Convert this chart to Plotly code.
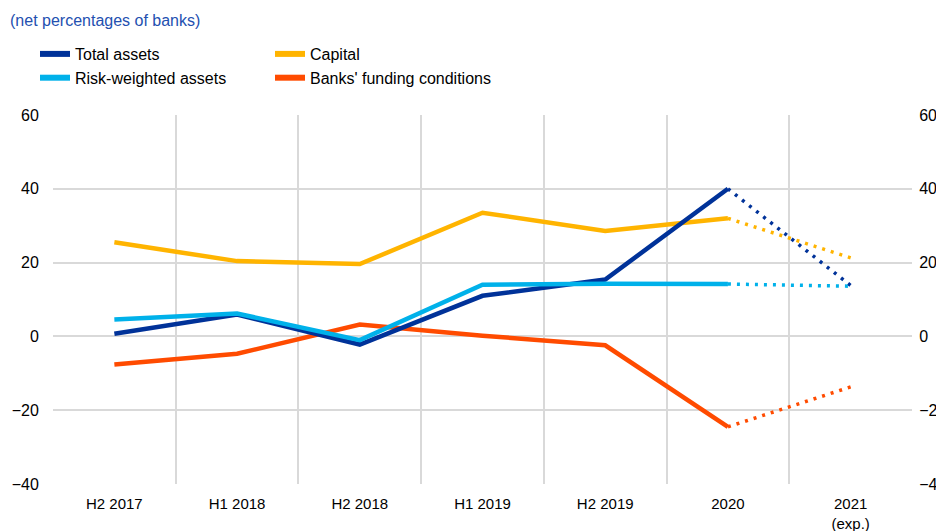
import plotly.graph_objects as go

categories = ["H2 2017", "H1 2018", "H2 2018", "H1 2019", "H2 2019", "2020", "2021<br>(exp.)"]
total_assets = [0.7, 5.9, -2.2, 11.0, 15.4, 40.0, 13.8]
risk_weighted = [4.6, 6.2, -1.0, 14.0, 14.3, 14.2, 13.6]
capital = [25.5, 20.4, 19.6, 33.5, 28.6, 32.0, 21.3]
funding = [-7.6, -4.7, 3.2, 0.2, -2.4, -24.5, -13.7]

series = [
    ("Total assets", total_assets, "#003299", "legend"),
    ("Risk-weighted assets", risk_weighted, "#00b1ea", "legend"),
    ("Capital", capital, "#ffb400", "legend2"),
    ("Banks' funding conditions", funding, "#ff4b00", "legend2"),
]

xpos = list(range(len(categories)))
FONT = "Liberation Sans, Arial, sans-serif"
FS = 16

OFF = 8  # page body margin
W, H = 944 - OFF, 531 - OFF
L, R, T, B = 53 - OFF, 32, 115 - OFF, 47
pw, ph = W - L - R, H - T - B

def px_x(x):
    return (x - OFF - L) / pw

def px_y(y):
    return 1 + (T - (y - OFF)) / ph

fig = go.Figure()
for name, vals, color, leg in [series[3], series[2], series[0], series[1]]:
    fig.add_trace(go.Scatter(
        x=xpos[:6], y=vals[:6], mode="lines", name=name,
        line=dict(color=color, width=4.5), showlegend=False,
    ))
    fig.add_trace(go.Scatter(
        x=xpos[5:], y=vals[5:], mode="lines", showlegend=False,
        line=dict(color=color, width=3.5, dash="3px,6px"),
    ))

for name, vals, color, leg in series:
    fig.add_trace(go.Scatter(
        x=[None], y=[None], mode="lines", name=name, legend=leg,
        line=dict(color=color, width=6),
    ))

fig.add_trace(go.Scatter(x=[None], y=[None], yaxis="y2", showlegend=False))

fig.update_layout(
    width=W, height=H,
    margin=dict(l=L, r=R, t=T, b=B, autoexpand=False),
    plot_bgcolor="white", paper_bgcolor="white",
    font=dict(family=FONT, size=FS, color="#000000"),
    title=dict(text="(net percentages of banks)", x=(10 - OFF)/W, xanchor="left", xref="container",
               y=1 - (20 - OFF)/H, yanchor="middle", yref="container",
               font=dict(family=FONT, size=FS, color="#2350b0")),
    xaxis=dict(range=[-0.5, 6.5], tickvals=xpos, ticktext=categories, tickangle=0,
               showgrid=False, zeroline=False, showline=False,
               ticks="outside", ticklen=6, tickcolor="rgba(0,0,0,0)",
               tickfont=dict(size=15),
               minor=dict(tickvals=[i - 0.5 for i in range(8)], showgrid=True,
                          gridcolor="#d9d9d9", gridwidth=1.5, ticks="")),
    yaxis=dict(range=[-40, 60], dtick=20, showgrid=True, gridcolor="#d9d9d9", gridwidth=1.5,
               zeroline=False, showline=False, ticks="outside", ticklen=10, tickcolor="rgba(0,0,0,0)",
               tickfont=dict(size=FS)),
    yaxis2=dict(range=[-40, 60], dtick=20, overlaying="y", side="right", showgrid=False,
                zeroline=False, showline=False, ticks="outside", ticklen=3,
                tickcolor="rgba(0,0,0,0)", tickfont=dict(size=FS)),
    legend=dict(x=px_x(35), y=px_y(37), xanchor="left", yanchor="top", orientation="v",
                itemwidth=30, font=dict(size=FS), tracegroupgap=0, bgcolor="rgba(0,0,0,0)"),
    legend2=dict(x=px_x(270), y=px_y(37), xanchor="left", yanchor="top", orientation="v",
                 itemwidth=30, font=dict(size=FS), tracegroupgap=0, bgcolor="rgba(0,0,0,0)"),
)

fig.write_html("out.html")
